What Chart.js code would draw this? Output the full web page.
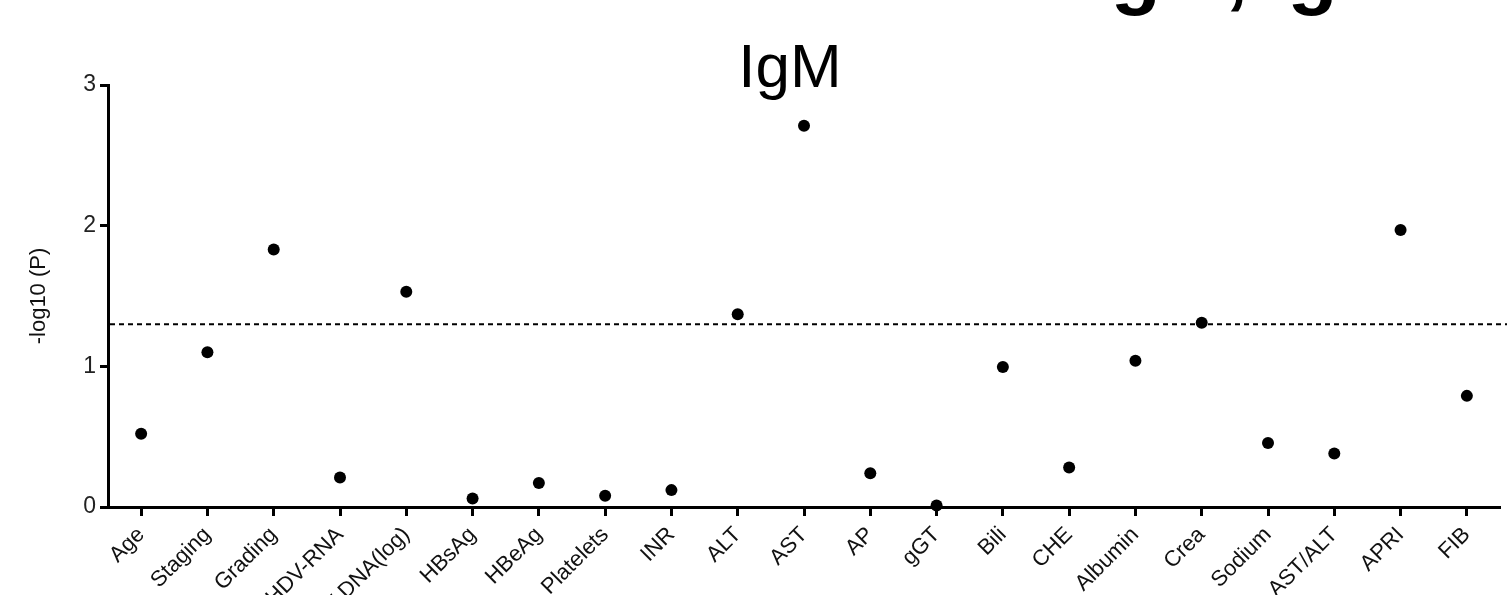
<!DOCTYPE html>
<html>
<head>
<meta charset="utf-8">
<script src="https://cdn.jsdelivr.net/npm/chart.js@4/dist/chart.umd.min.js"></script>
<style>
    html, body { margin: 0; padding: 0; background: #fff; overflow: hidden; }
    #wrap { position: relative; width: 1507px; height: 595px; overflow: hidden; }
    #my-chart { position: absolute; left: 0; top: 0; }
    #cut-title { position: absolute; left: 1090px; top: -76px; font: bold 82px "Liberation Sans", Arial, sans-serif; line-height: normal; letter-spacing: -2px; color: #000; white-space: nowrap; }
    #chart-title { position: absolute; left: 0; width: 1580px; top: 30px; text-align: center; font: 62px "Liberation Sans", Arial, sans-serif; color: #000; }
</style>
</head>
<body>
<div id="wrap">
    <canvas id="my-chart" width="1507" height="595"></canvas>
    <div id="cut-title">IgM, IgG</div>
    <div id="chart-title">IgM</div>
</div>
<script>
var categories = ["Age", "Staging", "Grading", "HDV-RNA", "HBV-DNA(log)", "HBsAg", "HBeAg", "Platelets", "INR",
    "ALT", "AST", "AP", "gGT", "Bili", "CHE", "Albumin", "Crea", "Sodium", "AST/ALT", "APRI", "FIB"];
var logP = [0.52, 1.10, 1.83, 0.21, 1.53, 0.06, 0.17, 0.08, 0.12,
    1.37, 2.71, 0.24, 0.01, 0.995, 0.28, 1.04, 1.31, 0.455, 0.38, 1.97, 0.79];
var yTicks = [0, 1, 2, 3];
var threshold = 1.3;
var yTitle = "-log10 (P)";

var fontFamily = "'Liberation Sans', Arial, sans-serif";

// dashed significance line, from the y axis to the right edge
var thresholdLine = {
    id: "thresholdLine",
    beforeDatasetsDraw: function (chart) {
        var ctx = chart.ctx;
        var y = chart.scales.y.getPixelForValue(threshold);
        ctx.save();
        ctx.strokeStyle = "#000";
        ctx.lineWidth = 2;
        ctx.setLineDash([5, 4]);
        ctx.beginPath();
        ctx.moveTo(chart.chartArea.left + 2, y);
        ctx.lineTo(chart.width, y);
        ctx.stroke();
        ctx.restore();
    }
};

var config = {
    type: "scatter",
    data: {
        labels: categories,
        datasets: [{
            label: "IgM",
            data: logP,
            showLine: false,
            pointRadius: 6,
            pointHoverRadius: 6,
            pointBackgroundColor: "#000",
            pointBorderColor: "#000",
            pointBorderWidth: 0,
            clip: false
        }]
    },
    options: {
        responsive: false,
        animation: false,
        devicePixelRatio: 1,
        layout: { padding: { top: 85, right: 7, left: 0, bottom: 0 } },
        plugins: {
            legend: { display: false },
            tooltip: { enabled: false },
            title: { display: false }
        },
        scales: {
            x: {
                type: "category",
                offset: true,
                grid: { drawOnChartArea: false, drawTicks: true, tickLength: 9, tickWidth: 3, tickColor: "#000", offset: false },
                border: { color: "#000", width: 3 },
                ticks: {
                    color: "#111",
                    font: { family: fontFamily, size: 22 },
                    minRotation: 45,
                    maxRotation: 45,
                    padding: 6,
                    autoSkip: false
                },
                afterFit: function (scale) { scale.height = 88; }
            },
            y: {
                min: 0,
                max: 3,
                afterBuildTicks: function (scale) {
                    scale.ticks = yTicks.map(function (v) { return { value: v }; });
                },
                grid: { drawOnChartArea: false, drawTicks: true, tickLength: 8, tickWidth: 3, tickColor: "#000" },
                border: { color: "#000", width: 3 },
                ticks: {
                    color: "#222",
                    font: { family: fontFamily, size: 23 },
                    padding: 4
                },
                title: {
                    display: true,
                    text: yTitle,
                    color: "#111",
                    font: { family: fontFamily, size: 22 },
                    padding: { top: 26, bottom: 30 }
                },
                afterFit: function (scale) { scale.width = 108; }
            }
        }
    },
    plugins: [thresholdLine]
};

var ctx = document.getElementById("my-chart").getContext("2d");
var chart = new Chart(ctx, config);
</script>
</body>
</html>
